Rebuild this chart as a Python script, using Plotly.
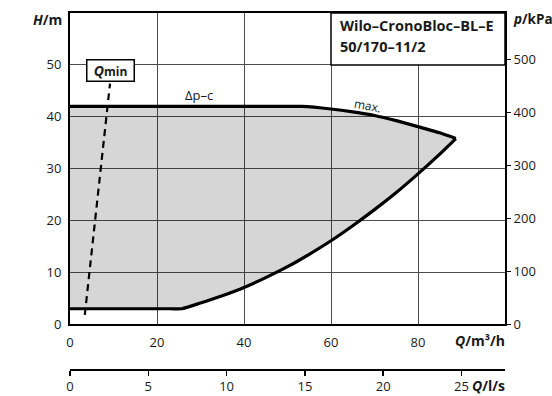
import plotly.graph_objects as go

# ---- data ----
# upper boundary: Δp-c flat part then "max." curve  (Q in m³/h, H in m)
upper_q = [0, 50, 53.3, 60, 65, 70, 75, 80, 85, 88.7]
upper_h = [42, 42, 42, 41.5, 40.95, 40.25, 39.25, 38.1, 36.9, 35.8]
# lower boundary: min flat part then rising curve
lower_q = [0, 23, 25.7, 30, 35, 40, 45, 50, 55, 60, 65, 70, 75, 80, 85, 88.7]
lower_h = [3, 3, 3, 4.1, 5.5, 7.1, 9.0, 11.1, 13.5, 16.1, 19.0, 22.1, 25.4, 29.0, 32.8, 35.8]
# Qmin dashed line
qmin_q = [3.4, 9.2]
qmin_h = [1.8, 46.4]

x_ticks = [0, 20, 40, 60, 80]
y_ticks = [0, 10, 20, 30, 40, 50]
kpa_ticks = [0, 100, 200, 300, 400, 500]
ls_ticks = [0, 5, 10, 15, 20, 25]

Q_MAX = 100
H_MAX = 60
KPA_PER_M = 9.81
M3H_PER_LS = 3.6

FONT = "Open Sans"
TXT = "#1a1a1a"
GRID = "#4d4d4d"

fig = go.Figure()

fig.add_trace(go.Scatter(x=lower_q, y=lower_h, mode="lines",
                         line=dict(color="black", width=3.2, shape="spline", smoothing=0.5),
                         hoverinfo="skip", showlegend=False))
fig.add_trace(go.Scatter(x=upper_q, y=upper_h, mode="lines",
                         line=dict(color="black", width=3.2, shape="spline", smoothing=0.5),
                         fill="tonexty", fillcolor="rgba(0,0,0,0.16)",
                         hoverinfo="skip", showlegend=False))
fig.add_trace(go.Scatter(x=qmin_q, y=qmin_h, mode="lines",
                         line=dict(color="black", width=2.2, dash="7px,5px"),
                         hoverinfo="skip", showlegend=False))
# invisible helper trace so the secondary axes (l/s, kPa) are drawn
fig.add_trace(go.Scatter(x=[q / M3H_PER_LS for q in lower_q],
                         y=[h * KPA_PER_M for h in lower_h],
                         xaxis="x2", yaxis="y2", mode="lines",
                         line=dict(width=0), opacity=0,
                         hoverinfo="skip", showlegend=False))

H_PX = 396
T, B = 13, 27
plot_h = H_PX - T - B
dom_bottom = (369 - 324.3) / plot_h

fig.update_layout(
    width=552, height=396,
    margin=dict(l=70, r=47, t=T, b=B, autoexpand=False),
    paper_bgcolor="white", plot_bgcolor="white",
    font=dict(family=FONT, size=13, color=TXT),
    xaxis=dict(range=[0, Q_MAX], tickvals=x_ticks, showgrid=True,
               gridcolor=GRID, gridwidth=1,
               showline=True, linecolor="black", linewidth=2, mirror=True,
               ticks="outside", ticklen=5, tickcolor="rgba(0,0,0,0)",
               zeroline=False, anchor="y", fixedrange=True, automargin=False),
    yaxis=dict(range=[0, H_MAX], tickvals=y_ticks, showgrid=True,
               gridcolor=GRID, gridwidth=1,
               showline=True, linecolor="black", linewidth=2, mirror=True,
               ticks="outside", ticklen=4, tickcolor="rgba(0,0,0,0)",
               zeroline=False, domain=[dom_bottom, 1], fixedrange=True,
               automargin=False),
    xaxis2=dict(range=[0, Q_MAX / M3H_PER_LS], tickvals=ls_ticks,
                overlaying="x", anchor="free", position=0, side="bottom",
                showgrid=False, zeroline=False,
                showline=True, linecolor="black", linewidth=1.5,
                ticks="outside", ticklen=5, tickcolor="black", tickwidth=1.5,
                fixedrange=True, automargin=False),
    yaxis2=dict(range=[0, H_MAX * KPA_PER_M], tickvals=kpa_ticks,
                overlaying="y", side="right", anchor="x",
                showgrid=False, zeroline=False, showline=False,
                ticks="outside", ticklen=5, tickcolor="black", tickwidth=1.2,
                fixedrange=True, automargin=False),
)

# title box
fig.add_shape(type="rect", xref="x", yref="y", x0=60, x1=100, y0=50, y1=60,
              fillcolor="white", line=dict(color="black", width=1.5), layer="above")
fig.add_annotation(x=61.6, y=57.6, xref="x", yref="y", xanchor="left", yanchor="middle",
                   text="<b>Wilo–CronoBloc–BL–E</b>", showarrow=False,
                   font=dict(size=14.5, color=TXT))
fig.add_annotation(x=61.6, y=53.5, xref="x", yref="y", xanchor="left", yanchor="middle",
                   text="<b>50/170–11/2</b>", showarrow=False,
                   font=dict(size=14.5, color=TXT))

# Qmin box
fig.add_annotation(x=9.2, y=48.9, xref="x", yref="y", xanchor="center", yanchor="middle",
                   text="<b><i>Q</i><span style='font-size:12px'>min</span></b>",
                   showarrow=False, bgcolor="white", bordercolor="black", borderwidth=1.5,
                   borderpad=1, width=44, height=18, font=dict(size=14, color=TXT))

# curve labels
fig.add_annotation(x=29.7, y=44.2, xref="x", yref="y", text="Δp–c", showarrow=False,
                   font=dict(size=13, color=TXT))
fig.add_annotation(x=68.3, y=42.1, xref="x", yref="y", text="max.", showarrow=False,
                   textangle=11, font=dict(size=12, color=TXT))

# axis titles
W = 435
def px_x(px):
    return (px - 70) / W
def px_y(py):
    return (369 - py) / plot_h

fig.add_annotation(x=px_x(64), y=px_y(19.5), xref="paper", yref="paper",
                   xanchor="right", yanchor="middle", showarrow=False,
                   text="<b><i>H</i>/m</b>", font=dict(size=14, color=TXT))
fig.add_annotation(x=px_x(511), y=px_y(19), xref="paper", yref="paper",
                   xanchor="left", yanchor="middle", showarrow=False,
                   text="<b><i>p</i>/kPa</b>", font=dict(size=13.5, color=TXT))
fig.add_annotation(x=px_x(507), y=px_y(340), xref="paper", yref="paper",
                   xanchor="right", yanchor="middle", showarrow=False,
                   text="<b><i>Q</i>/m³/h</b>", font=dict(size=14, color=TXT))
fig.add_annotation(x=px_x(507), y=px_y(385.5), xref="paper", yref="paper",
                   xanchor="right", yanchor="middle", showarrow=False,
                   text="<b><i>Q</i>/l/s</b>", font=dict(size=14, color=TXT))

fig.write_html("out.html",
               config={"displayModeBar": False, "staticPlot": True},
               post_script="document.body.style.margin='0';document.body.style.padding='0';")
